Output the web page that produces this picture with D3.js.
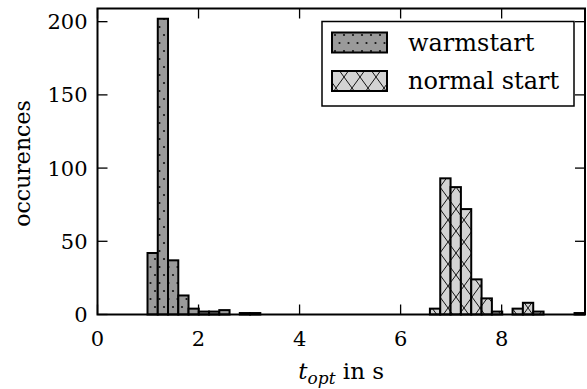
<!DOCTYPE html>
<html>
<head>
<meta charset="utf-8">
<script src="https://cdn.jsdelivr.net/npm/d3@7"></script>
<style>
  body { margin: 0; background: #fff; }
  svg { display: block; }
</style>
</head>
<body>
<svg id="chart" width="587" height="389"></svg>
<script>
// Histogram data
const seriesNames = ["warmstart", "normal start"];
const warmBinStart = 0.99;
const warmBinWidth = 0.203;
const warmCounts = [42, 202, 37, 13, 4, 2, 2, 3, 0, 1, 1];
const normalBinStart = 6.58;
const normalBinWidth = 0.2045;
const normalCounts = [4, 93, 87, 72, 24, 11, 2, 0, 4, 8, 2, 0, 0, 0, 1];
const xTicks = [0, 2, 4, 6, 8];
const yTicks = [0, 50, 100, 150, 200];

const width = 587;
const height = 389;
const margin = { left: 97.5, right: 2, top: 8.5, bottom: 74.5 };
const plotW = width - margin.left - margin.right;
const plotH = height - margin.top - margin.bottom;
const fontFamily = "'DejaVu Serif', serif";

const svg = d3.select("#chart");

const x = d3.scaleLinear().domain([0, 9.65]).range([margin.left, margin.left + plotW]);
const y = d3.scaleLinear().domain([0, 209]).range([margin.top + plotH, margin.top]);

// Hatch patterns
const defs = svg.append("defs");

const dots = defs.append("pattern")
  .attr("id", "dots")
  .attr("patternUnits", "userSpaceOnUse")
  .attr("width", 9)
  .attr("height", 16);
dots.append("rect").attr("width", 9).attr("height", 16).attr("fill", "#9a9a9a");
dots.append("circle").attr("cx", 2).attr("cy", 3).attr("r", 1.1).attr("fill", "#111");
dots.append("circle").attr("cx", 6.5).attr("cy", 11).attr("r", 1.1).attr("fill", "#111");

const cross = defs.append("pattern")
  .attr("id", "cross")
  .attr("patternUnits", "userSpaceOnUse")
  .attr("width", 16)
  .attr("height", 22);
cross.append("rect").attr("width", 16).attr("height", 22).attr("fill", "#d3d3d3");
cross.append("path")
  .attr("d", "M0,0L16,22M16,0L0,22")
  .attr("stroke", "#111")
  .attr("stroke-width", 1)
  .attr("fill", "none");

const clip = defs.append("clipPath").attr("id", "plotclip");
clip.append("rect")
  .attr("x", margin.left)
  .attr("y", margin.top - 2)
  .attr("width", plotW)
  .attr("height", plotH + 4);

// Bars
const barGroup = svg.append("g").attr("clip-path", "url(#plotclip)");

function drawBars(counts, start, binW, fill) {
  const bins = counts.map((c, i) => ({ x0: start + i * binW, x1: start + (i + 1) * binW, n: c }))
    .filter(d => d.n > 0);
  barGroup.append("g").selectAll("rect")
    .data(bins)
    .join("rect")
    .attr("x", d => x(d.x0))
    .attr("y", d => y(d.n))
    .attr("width", d => x(d.x1) - x(d.x0))
    .attr("height", d => y(0) - y(d.n))
    .attr("fill", fill)
    .attr("stroke", "#000")
    .attr("stroke-width", 2);
}

drawBars(warmCounts, warmBinStart, warmBinWidth, "url(#dots)");
drawBars(normalCounts, normalBinStart, normalBinWidth, "url(#cross)");

// Ticks on all four sides, pointing inward
const tickLen = 10;
const tickGroup = svg.append("g").attr("stroke", "#000").attr("stroke-width", 1.3);

xTicks.forEach(t => {
  tickGroup.append("line")
    .attr("x1", x(t)).attr("x2", x(t))
    .attr("y1", y(0)).attr("y2", y(0) - tickLen);
  tickGroup.append("line")
    .attr("x1", x(t)).attr("x2", x(t))
    .attr("y1", margin.top).attr("y2", margin.top + tickLen);
});

yTicks.forEach(t => {
  tickGroup.append("line")
    .attr("x1", margin.left).attr("x2", margin.left + tickLen)
    .attr("y1", y(t)).attr("y2", y(t));
  tickGroup.append("line")
    .attr("x1", margin.left + plotW).attr("x2", margin.left + plotW - tickLen)
    .attr("y1", y(t)).attr("y2", y(t));
});

// Frame
svg.append("rect")
  .attr("x", margin.left)
  .attr("y", margin.top)
  .attr("width", plotW)
  .attr("height", plotH)
  .attr("fill", "none")
  .attr("stroke", "#000")
  .attr("stroke-width", 2);

// Tick labels
svg.append("g").selectAll("text")
  .data(xTicks)
  .join("text")
  .attr("x", d => x(d))
  .attr("y", y(0) + 31)
  .attr("text-anchor", "middle")
  .attr("font-size", 21)
  .style("font-family", fontFamily)
  .text(d => d);

svg.append("g").selectAll("text")
  .data(yTicks)
  .join("text")
  .attr("x", margin.left - 10)
  .attr("y", d => y(d) + 7.5)
  .attr("text-anchor", "end")
  .attr("font-size", 21)
  .style("font-family", fontFamily)
  .text(d => d);

// Axis labels
const xLabel = svg.append("text")
  .attr("x", margin.left + plotW / 2)
  .attr("y", 379)
  .attr("text-anchor", "middle")
  .attr("font-size", 23)
  .style("font-family", fontFamily);
xLabel.append("tspan").attr("font-style", "italic").text("t");
xLabel.append("tspan").attr("font-style", "italic").attr("font-size", 17).attr("dy", 5).text("opt");
xLabel.append("tspan").attr("dy", -5).text(" in s");

svg.append("text")
  .attr("transform", `translate(30,${margin.top + plotH / 2 + 2}) rotate(-90)`)
  .attr("text-anchor", "middle")
  .attr("font-size", 22)
  .style("font-family", fontFamily)
  .text("occurences");

// Legend
const legend = svg.append("g");
legend.append("rect")
  .attr("x", 322)
  .attr("y", 21.5)
  .attr("width", 252)
  .attr("height", 84.5)
  .attr("fill", "#fff")
  .attr("stroke", "#000")
  .attr("stroke-width", 1.5);

const legendFills = ["url(#dots)", "url(#cross)"];
seriesNames.forEach((name, i) => {
  const ly = 32.5 + i * 38.5;
  legend.append("rect")
    .attr("x", 332)
    .attr("y", ly)
    .attr("width", 55)
    .attr("height", 20)
    .attr("fill", legendFills[i])
    .attr("stroke", "#000")
    .attr("stroke-width", 2);
  legend.append("text")
    .attr("x", 408)
    .attr("y", ly + 18)
    .attr("font-size", 24)
    .style("font-family", fontFamily)
    .text(name);
});
</script>
</body>
</html>
